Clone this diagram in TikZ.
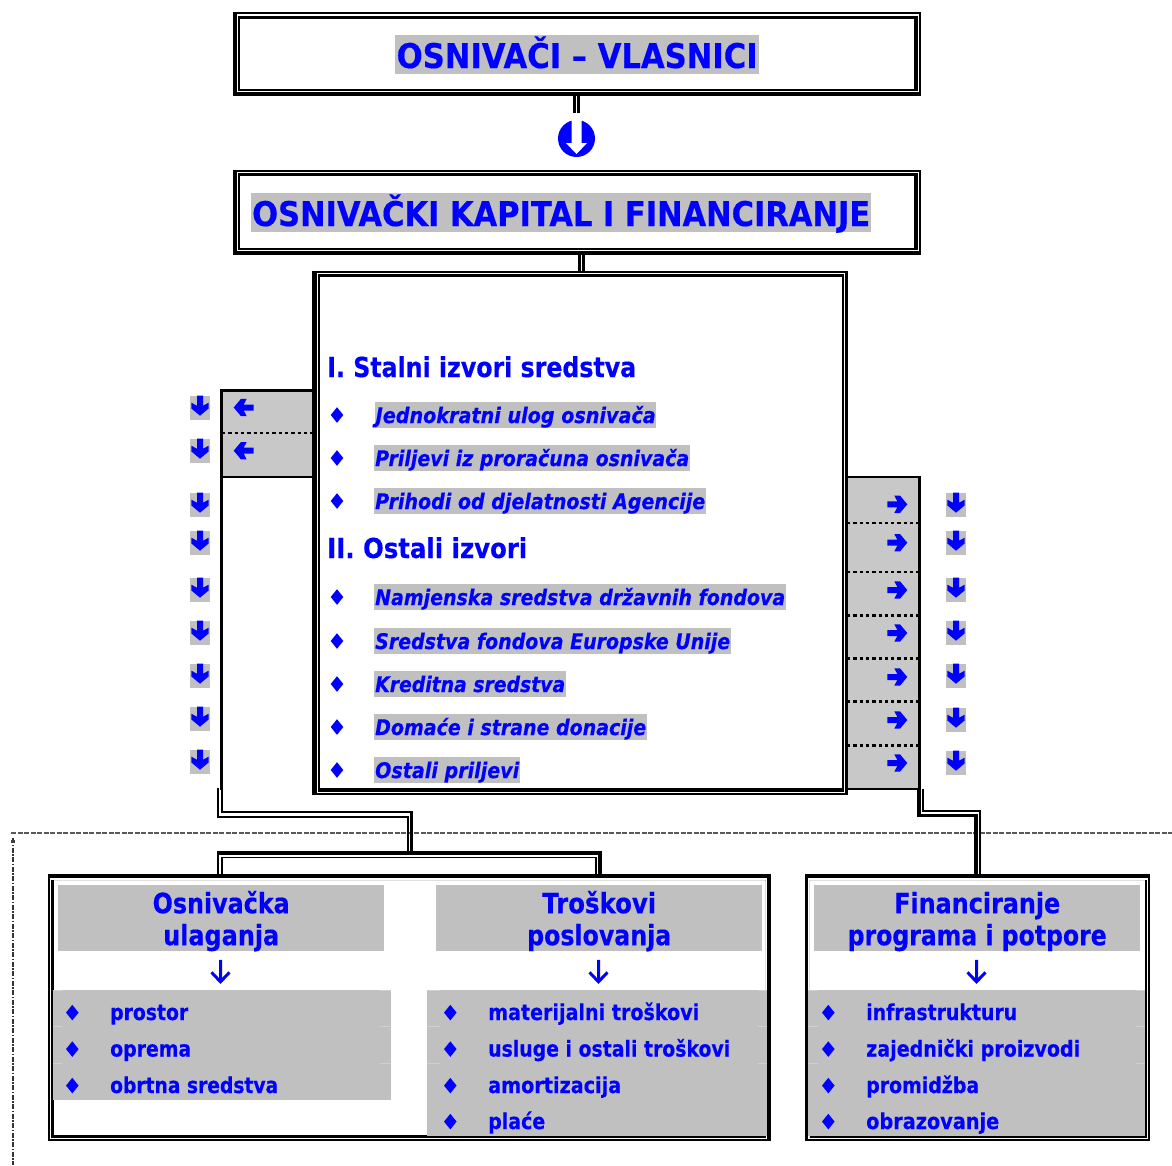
\documentclass[tikz,border=0pt]{standalone}
\usepackage{graphicx}
\usepackage{fontspec}
\setmainfont{DejaVu Sans}[FakeStretch=0.88,BoldFeatures={FakeBold=0.4},BoldItalicFeatures={FakeBold=0.4}]
\definecolor{ink}{RGB}{0,0,255}
\definecolor{hl}{RGB}{192,192,192}
\definecolor{panel}{RGB}{200,200,200}
\definecolor{seam}{RGB}{208,208,208}
\newcommand\fw[2]{\resizebox{#1pt}{\height}{#2}}
\def\parsew#1/#2;#3#4{\def#3{#1}\def#4{#2}}
% name, x0,y0,x1,y1, top O/I, bottom O/I, left O/I, right O/I
\newcommand\dbl[9]{%
 \parsew#6;\tO\tI \parsew#7;\bO\bI \parsew#8;\lO\lI \parsew#9;\rO\rI
 \pgfmathsetmacro\gp{1.2}%
 \pgfmathsetmacro\ww{#4-#2}\pgfmathsetmacro\hh{#5-#3}%
 \node[inner sep=0,outer sep=0,minimum width=\ww,minimum height=\hh,anchor=north west] (#1) at (#2,#3) {};
 \fill[black] (#2,#3) rectangle (#4,#3+\tO);
 \fill[black] (#2,#5) rectangle (#4,#5-\bO);
 \fill[black] (#2,#3) rectangle (#2+\lO,#5);
 \fill[black] (#4,#3) rectangle (#4-\rO,#5);
 \pgfmathsetmacro\ia{#2+\lO+\gp}\pgfmathsetmacro\ib{#3+\tO+\gp}%
 \pgfmathsetmacro\ic{#4-\rO-\gp}\pgfmathsetmacro\id{#5-\bO-\gp}%
 \fill[black] (\ia,\ib) rectangle (\ic,\ib+\tI);
 \fill[black] (\ia,\id) rectangle (\ic,\id-\bI);
 \fill[black] (\ia,\ib) rectangle (\ia+\lI,\id);
 \fill[black] (\ic,\ib) rectangle (\ic-\rI,\id);
}
\tikzset{
 titlehl/.style={fill=hl,inner sep=0pt,text=ink,font=\fontsize{34}{34}\selectfont\bfseries,text height=33,text depth=6,minimum height=39,anchor=west},
 sectxt/.style={inner sep=0pt,text=ink,font=\fontsize{27.5}{27.5}\selectfont\bfseries,anchor=base west},
 itemhl/.style={fill=hl,inner sep=0pt,text=ink,font=\fontsize{21.5}{21.5}\selectfont\bfseries\itshape,text height=21,text depth=5,minimum height=26,anchor=west},
 headbox/.style={fill=hl,inner sep=0pt,text=ink,align=center,font=\fontsize{28}{32}\selectfont\bfseries,minimum width=326,minimum height=66,anchor=north west},
 listtxt/.style={inner sep=0pt,text=ink,font=\fontsize{22}{22}\selectfont\bfseries,anchor=base west},
 graytile/.style={fill=hl,inner sep=0pt,minimum width=20,minimum height=24},
 dotsep/.style={line width=2.3pt,draw=black,dash pattern=on 3.3pt off 3pt},
 pics/blockarrow/.style={code={\fill[ink] (-3,-10)--(3,-10)--(3,0)--(8.7,-3)--(8.7,2.7)--(0,10)--(-8.7,2.7)--(-8.7,-3)--(-3,0)--cycle;}},
 pics/gem/.style={code={\fill[ink] (0,-7.8)--(6.3,0)--(0,7.8)--(-6.3,0)--cycle;}},
 pics/linearrow/.style={code={\draw[ink,line width=3pt] (0,-11.5)--(0,10) (-9,1)--(0,10.5)--(9,1);}},
}
\newcommand\hlead[2]{\rule{0pt}{28pt}\fw{#1}{#2}}
\newcommand\hlast[2]{\rule[-6pt]{0pt}{6pt}\fw{#1}{#2}}
\begin{document}
\begin{tikzpicture}[x=1pt,y=-1pt]
\useasboundingbox (0,0) rectangle (1172,1165);
% page frame dashed
\coordinate (fa) at (11,833);\coordinate (fb) at (1172,833);\coordinate (fc) at (13,1165);\coordinate (fd) at (13,838);
\draw[line width=1.4pt,draw=black!65,dash pattern=on 5pt off 1.5pt] (fa)--(fb);
\draw[line width=2pt,draw=black!80,dash pattern=on 5pt off 1.5pt on 1.5pt off 1.5pt] (fd)--(fc);
\fill[black!75] (11,840) rectangle (14.5,843);

% left panel
\fill[panel] (221,390) rectangle (313,477);
\coordinate (lp1) at (221.3,790);\coordinate (lp2) at (221.3,390.5);\coordinate (lp3) at (313,390.5);\coordinate (lp4) at (221.3,477);\coordinate (lp5) at (313,477);\coordinate (lp6) at (222,433);\coordinate (lp7) at (313,433);
\draw[line width=2.5pt] (lp1)--(lp2)--(lp3);
\draw[line width=2.2pt] (lp4)--(lp5);
\draw[dotsep] (lp6)--(lp7);
% right panel
\fill[panel] (847,477) rectangle (919,789);
\coordinate (rp0) at (847,477.2);\coordinate (rp1) at (919.5,477.2);\coordinate (rp2) at (919.5,789);\coordinate (rp3) at (847,789);
\draw[line width=2.4pt] (rp0)--(rp1)--(rp2)--(rp3);
\foreach \yy in {523,572.2,615.5,658.5,701.5,745.5}{\draw[dotsep] (847,\yy)--(919,\yy);}

% title box 1
\dbl{t1}{233}{12.3}{921}{96}{2/3}{3.7/1.8}{4/2}{2/3.7}
\node[titlehl,minimum width=364] (tt1) at (395,54.5) {\fw{361}{OSNIVAČI – VLASNICI}};
% connector
\coordinate (c1a) at (574.2,96);\coordinate (c1b) at (574.2,113);\coordinate (c1c) at (578.7,96);\coordinate (c1d) at (578.7,113);
\draw[line width=3pt] (c1a)--(c1b);\draw[line width=2.7pt] (c1c)--(c1d);
% circle arrow
\node[circle,fill=ink,minimum size=37,inner sep=0] (circ) at (576.5,138.5) {};
\fill[white] (571.7,118)--(581.7,118)--(581.7,143)--(587,143)--(576.5,154)--(566,143)--(571.7,143)--cycle;

% title box 2
\dbl{t2}{233}{170}{921}{255}{2/3}{3.7/1.8}{4/2}{2/3.7}
\node[titlehl,minimum width=620] (tt2) at (251,212.5) {\fw{618}{OSNIVAČKI KAPITAL I FINANCIRANJE}};
\coordinate (c2a) at (579.3,255);\coordinate (c2b) at (579.3,271);\coordinate (c2c) at (583.6,255);\coordinate (c2d) at (583.6,271);
\draw[line width=2.7pt] (c2a)--(c2b);\draw[line width=2.7pt] (c2c)--(c2d);

% main box
\dbl{m1}{312.3}{270.7}{848}{795}{2/3}{2/4}{4.4/1.7}{2.7/2.3}
\node[sectxt] (s1) at (327,377) {\fw{309}{I. Stalni izvori sredstva}};
\node[sectxt] (s2) at (327,558) {\fw{200}{II. Ostali izvori}};
\node[itemhl,minimum width=281] (i1) at (375,415) {\fw{280}{Jednokratni ulog osnivača}};
\node[itemhl,minimum width=316] (i2) at (374,458) {\fw{314}{Priljevi iz proračuna osnivača}};
\node[itemhl,minimum width=332] (i3) at (374,501) {\fw{330}{Prihodi od djelatnosti Agencije}};
\node[itemhl,minimum width=412] (i4) at (374,597) {\fw{410}{Namjenska sredstva državnih fondova}};
\node[itemhl,minimum width=357] (i5) at (374,641) {\fw{355}{Sredstva fondova Europske Unije}};
\node[itemhl,minimum width=192] (i6) at (374,684) {\fw{190}{Kreditna sredstva}};
\node[itemhl,minimum width=273] (i7) at (374,727) {\fw{271}{Domaće i strane donacije}};
\node[itemhl,minimum width=146] (i8) at (374,770) {\fw{144}{Ostali priljevi}};
\foreach \yy in {415,458,501,597,641,684,727,770}{\pic at (337,\yy) {gem};}

% panel arrows
\pic[rotate=-90] at (243.7,407.5) {blockarrow};
\pic[rotate=-90] at (243.7,450.7) {blockarrow};
\foreach \yy in {504.3,542.7,590,633,677,720,763}{\pic[rotate=90] at (897.3,\yy) {blockarrow};}
% tiles
\foreach \yy in {408,451,505,543,590,633,676,719,762}{\node[graytile] at (200,\yy) {};\pic at (200,\yy-2.3) {blockarrow};}
\foreach \yy in {505,543,590,633,676,720,763}{\node[graytile] at (956,\yy) {};\pic at (956,\yy-2.3) {blockarrow};}

% connectors to lower boxes
\coordinate (d1) at (222,788);\coordinate (d2) at (222,812);\coordinate (d3) at (411.5,812);\coordinate (d4) at (411.5,853);
\coordinate (e1) at (218.2,788);\coordinate (e2) at (218.2,816.6);\coordinate (e3) at (407.8,816.6);\coordinate (e4) at (407.8,853);
\draw[line width=2.8pt,line join=miter] (d1)--(d2)--(d3)--(d4);
\draw[line width=1.8pt,line join=miter] (e1)--(e2)--(e3)--(e4);
\coordinate (f1) at (218.2,875);\coordinate (f2) at (218.2,853);\coordinate (f3) at (599.7,853);\coordinate (f4) at (599.7,875);
\coordinate (g1) at (222,875);\coordinate (g2) at (222,857.3);\coordinate (g3) at (595.8,857.3);\coordinate (g4) at (595.8,875);
\draw[line width=1.8pt] (f1)--(f2);
\draw[line width=4pt] (217.3,853)--(f3)--(f4);
\draw[line width=1.5pt] (g2)--(g3)--(g4);
\draw[line width=2.7pt] (g1)--(g2);
\coordinate (h1) at (922.8,789);\coordinate (h2) at (922.8,810.7);\coordinate (h3) at (979.9,810.7);\coordinate (h4) at (979.9,875);
\coordinate (j1) at (919.2,789);\coordinate (j2) at (919.2,815.6);\coordinate (j3) at (975.8,815.6);\coordinate (j4) at (975.8,875);
\draw[line width=1.6pt] (h1)--(h2)--(h3)--(h4);
\draw[line width=3.6pt] (j1)--(j2)--(j3)--(j4);

% lower boxes
\dbl{b1}{48.3}{874}{771}{1141}{4.3/0}{1.8/2.6}{1.8/2.3}{4.3/0}
\dbl{b2}{805}{874}{1150}{1141}{4.3/0}{1.8/2.6}{3.3/0}{2.3/1.7}

\node[headbox] (h1box) at (58,885) {\hlead{137}{Osnivačka}\\\hlast{116}{ulaganja}};
\node[headbox] (h2box) at (436,885) {\hlead{114}{Troškovi}\\\hlast{144}{poslovanja}};
\node[headbox] (h3box) at (814,885) {\hlead{166}{Financiranje}\\\hlast{259}{programa i potpore}};
\pic at (220.5,971.3) {linearrow};
\pic at (598.5,971.3) {linearrow};
\pic at (976.5,971.3) {linearrow};
\node[fill=hl,minimum width=338.3,minimum height=110,inner sep=0,outer sep=0,anchor=north west] (l1) at (52.7,990) {};
\node[fill=hl,minimum width=339.7,minimum height=146,inner sep=0,outer sep=0,anchor=north west] (l2) at (427,990) {};
\node[fill=hl,minimum width=336.7,minimum height=146,inner sep=0,outer sep=0,anchor=north west] (l3) at (808.3,990) {};
% seams between table rows
\foreach \aa/\bb in {52.7/62,380/391,427/440,758/766.7,808.3/818,1136/1145}{
 \foreach \yy in {990.3,1026.5,1063}{\draw[seam,line width=.8pt] (\aa,\yy)--(\bb,\yy);}}
\foreach \xx/\ww/\tt/\yy in {110/78/prostor/1020,110/81/oprema/1056.5,110/168/obrtna sredstva/1093,
 488/211/materijalni troškovi/1020,488/242/usluge i ostali troškovi/1056.5,488/133/amortizacija/1093,488/57/plaće/1129,
 866/151/infrastrukturu/1020,866/214/zajednički proizvodi/1056.5,866/113/promidžba/1093,866/133/obrazovanje/1129}
 {\node[listtxt] at (\xx,\yy) {\fw{\ww}{\tt}};\pic at (\xx-37.7,\yy-7.4) {gem};}
\end{tikzpicture}
\end{document}
